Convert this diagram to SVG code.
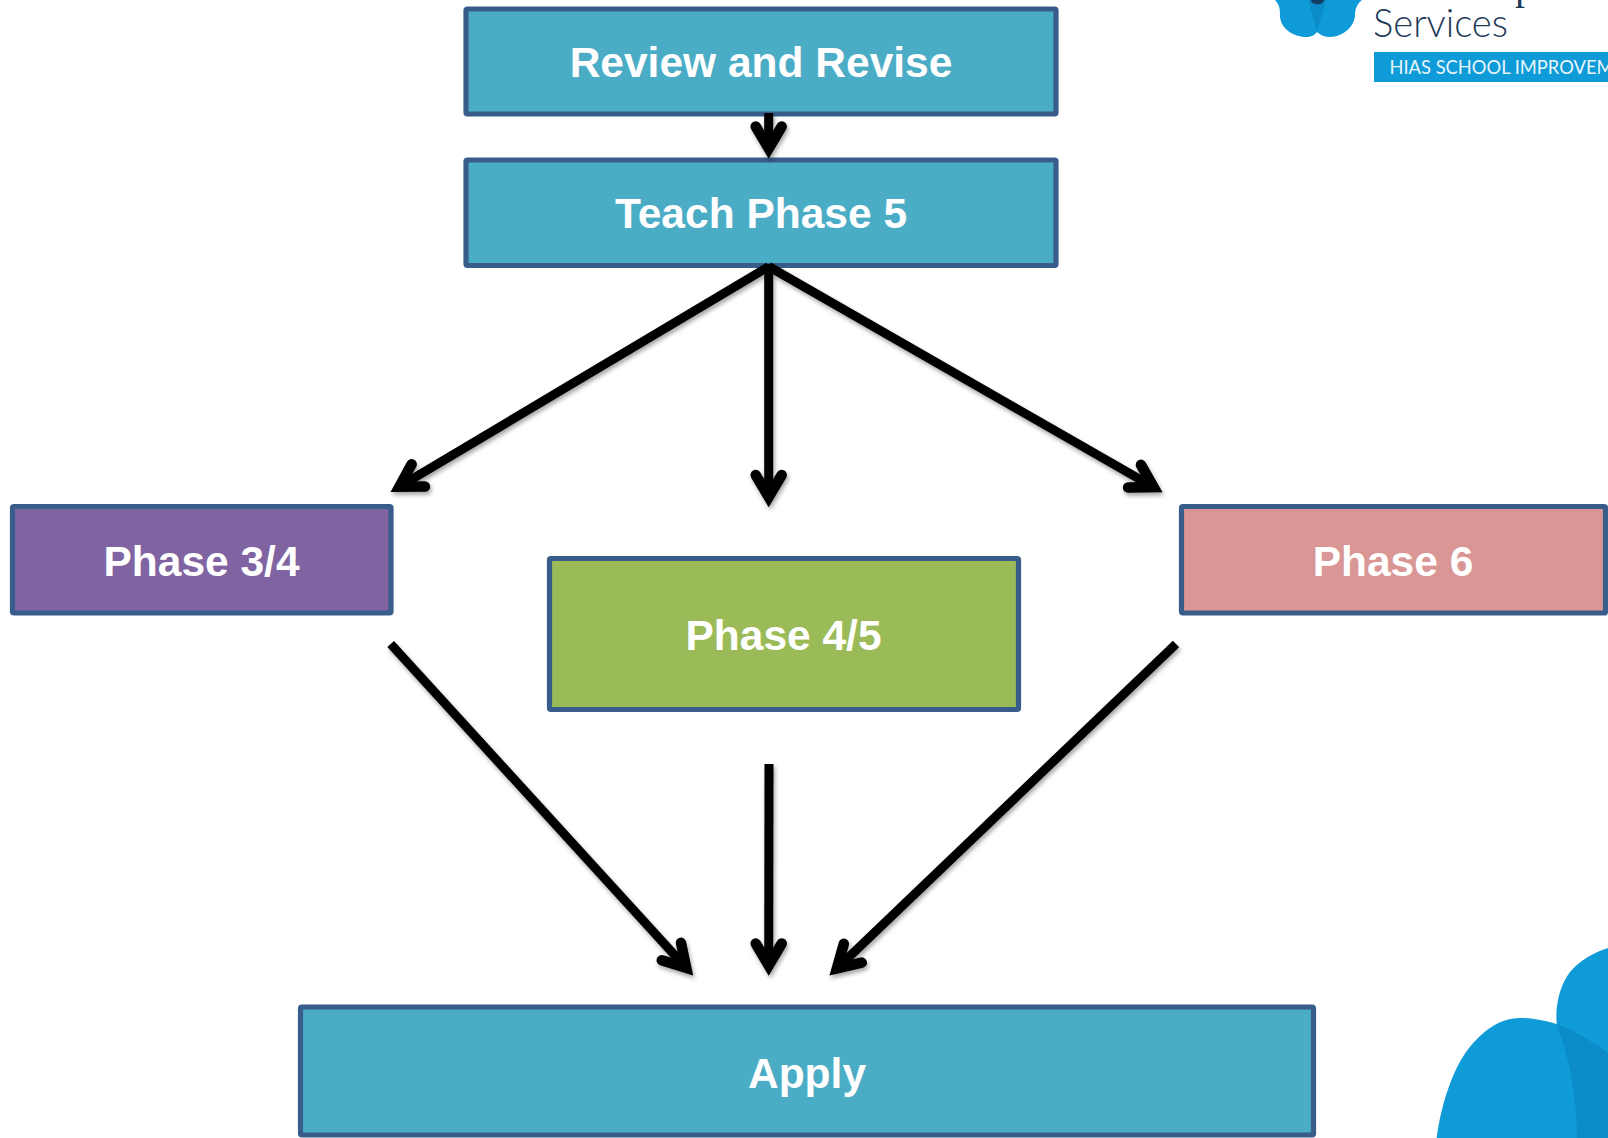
<svg xmlns="http://www.w3.org/2000/svg" width="1608" height="1138" viewBox="0 0 1608 1138">
<style>
.box{stroke:#385d8a;stroke-width:5.2;}
.teal{fill:#4bacc6;}
.purple{fill:#8064a2;}
.green{fill:#9bbb59;}
.pink{fill:#d99694;}
.label{font-family:"Liberation Sans",Arial,sans-serif;font-weight:bold;font-size:42.5px;fill:#fff;text-anchor:middle;}
.conn{fill:none;stroke:#000;stroke-width:9;marker-end:url(#head);}
.logo{fill:#0f9bd7;}
.logodark{fill:#0b8cc8;}
</style>
<defs>
<marker id="head" markerUnits="userSpaceOnUse" markerWidth="70" markerHeight="70" viewBox="-35 -35 70 70" refX="0" refY="0" orient="auto" overflow="visible">
<path d="M-22 -13L0 0L-22 13" fill="none" stroke="#000" stroke-width="10.5" stroke-linecap="round" stroke-linejoin="miter" stroke-miterlimit="10"/>
</marker>
<filter id="shadow" x="-10%" y="-10%" width="120%" height="120%">
<feDropShadow dx="1.5" dy="3" stdDeviation="2" flood-color="#000" flood-opacity="0.35"/>
</filter>
</defs>
<rect width="1608" height="1138" fill="#fff"/>
<g id="logo-top">
<path class="logo" d="M1275 0C1280 5 1280 10 1280 17C1281 28 1293 37 1306 37C1311 37 1315 35 1317 32C1320 35 1325 37 1330 37C1343 37 1355 26 1355 15C1355 9 1357 4 1362 0Z"/>
<path class="logodark" d="M1308 0L1317 32L1326 0Z"/>
<path fill="#123f63" d="M1311 0A6 4 0 0 0 1324 0Z"/>
<text x="1373" y="36.5" font-family="Lato,'Noto Sans',sans-serif" font-weight="300" font-size="39" fill="#1c3a57" textLength="135" lengthAdjust="spacingAndGlyphs">Services</text>
<text x="1515" y="-1" font-family="'Liberation Serif',serif" font-size="40" fill="#1c3a57">p</text>
<rect x="1374" y="52" width="234" height="30" fill="#0f9bd7"/>
<text x="1389.5" y="74" font-family="Lato,'Noto Sans',sans-serif" font-size="19.5" fill="#e8f6fc" textLength="224" lengthAdjust="spacingAndGlyphs">HIAS SCHOOL IMPROVEM</text>
</g>
<g id="logo-bottom">
<path class="logo" d="M1436.7 1138C1441 1105 1452 1072 1466 1052C1480 1033 1498 1018 1520 1018C1533 1018 1547 1021 1556.7 1024C1555 1005 1560 985 1570 972C1580 960 1595 952 1608 948V1138Z"/>
<path class="logodark" d="M1556.7 1024C1575 1031 1592 1041 1608 1053V1138H1577C1577 1100 1570 1060 1556.7 1024Z"/>
</g>
<g id="review"><rect class="box teal" x="466" y="9" width="590" height="105" rx="1.5"/><text class="label" x="761" y="77">Review and Revise</text></g>
<g id="teach"><rect class="box teal" x="466" y="160" width="590" height="105.5" rx="1.5"/><text class="label" x="761" y="227.5">Teach Phase 5</text></g>
<g id="phase34"><rect class="box purple" x="12.5" y="506.5" width="378.5" height="106.5" rx="1.5"/><text class="label" x="201.5" y="575.5">Phase 3/4</text></g>
<g id="phase45"><rect class="box green" x="549.5" y="558.5" width="469" height="151" rx="1.5"/><text class="label" x="783.5" y="649.5">Phase 4/5</text></g>
<g id="phase6"><rect class="box pink" x="1181.5" y="506.5" width="424" height="106.5" rx="1.5"/><text class="label" x="1393" y="575.5">Phase 6</text></g>
<g id="apply"><rect class="box teal" x="300.5" y="1007" width="1013" height="128" rx="1.5"/><text class="label" x="807" y="1088">Apply</text></g>
<g id="connectors" filter="url(#shadow)">
<path class="conn" d="M768.7 113V148.5"/>
<path class="conn" d="M768.7 266.5L399.4 486.7"/>
<path class="conn" d="M768.7 264V497"/>
<path class="conn" d="M768.7 266.5L1153.6 487.1"/>
<path class="conn" d="M390.7 644L686.2 967.8"/>
<path class="conn" d="M769 764L768.7 965.5"/>
<path class="conn" d="M1176 644L836.9 968.4"/>
</g>
</svg>
